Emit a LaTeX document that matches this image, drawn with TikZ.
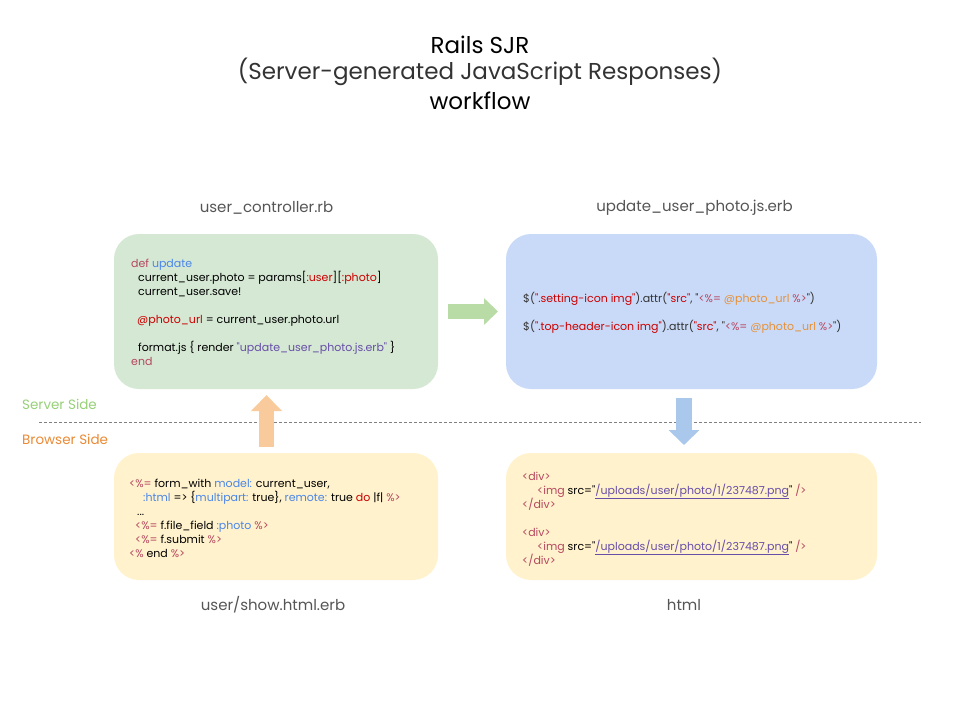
\documentclass[tikz,border=0pt]{standalone}
\usepackage{fontspec}
\setmainfont{Poppins}[Ligatures=TeXOff]
\usetikzlibrary{arrows.meta}
\definecolor{gfill}{HTML}{D5E8D4}
\definecolor{bfill}{HTML}{C9DAF8}
\definecolor{yfill}{HTML}{FFF2CC}
\definecolor{garrow}{HTML}{B9DCA6}
\definecolor{barrow}{HTML}{A9C8EC}
\definecolor{oarrow}{HTML}{F9CB9C}
\definecolor{kw}{HTML}{B5475F}
\definecolor{rd}{HTML}{CC0000}
\definecolor{bl}{HTML}{4A86E8}
\definecolor{pu}{HTML}{674EA7}
\definecolor{og}{HTML}{E69138}
\definecolor{dk}{HTML}{333333}
\definecolor{lbl}{HTML}{555555}
\definecolor{srv}{HTML}{97D077}
\definecolor{brw}{HTML}{EA8A35}
\newcommand\qq{\symbol{34}}
\begin{document}
\begin{tikzpicture}[x=1pt,y=-1pt,
  box/.style={rounded corners=25pt, inner sep=0pt},
  code/.style={anchor=base west, inner sep=0pt, font=\fontsize{11}{12}\selectfont},
  lab/.style={font=\fontsize{15}{18}\selectfont, text=lbl, inner sep=0pt},
  ttl/.style={font=\fontsize{23}{26}\selectfont, inner sep=0pt},
  side/.style={font=\fontsize{13.5}{16}\selectfont, inner sep=0pt, anchor=west}]
\useasboundingbox (0,0) rectangle (960,720);
% title
\node[ttl] (t1) at (480,45) {Rails SJR};
\node[ttl, text=dk] (t2) at (480,72) {(Server-generated JavaScript Responses)};
\node[ttl] (t3) at (480,101) {workflow};
% boxes
\node[box, fill=gfill, minimum width=324pt, minimum height=155pt] (ctrl) at (276,311.5) {};
\node[box, fill=bfill, minimum width=371pt, minimum height=155pt] (js) at (691.5,311.5) {};
\node[box, fill=yfill, minimum width=324pt, minimum height=127pt] (show) at (276,516.5) {};
\node[box, fill=yfill, minimum width=371pt, minimum height=127pt] (html) at (691.5,516.5) {};
% labels
\node[lab] (lctrl) at (266.5,208) {user\_controller.rb};
\node[lab] (ljs) at (694.5,208) {update\_user\_photo.js.erb};
\node[lab] (lshow) at (273,605) {user/show.html.erb};
\node[lab] (lhtml) at (684,605) {html};
% side labels and divider
\node[side, text=srv] (srv) at (22,404) {Server Side};
\node[side, text=brw] (brw) at (22,439) {Browser Side};
\coordinate (dl) at (39,422);
\coordinate (dr) at (921,422);
\draw[gray, line width=1pt, dash pattern=on 3pt off 2pt] (dl) -- (dr);
% arrows
\coordinate (ga) at (448,311.5); \coordinate (gb) at (498,311.5);
\draw[garrow, line width=15pt, -{Triangle[length=14pt,width=26pt]}] (ga) -- (gb);
\coordinate (ba) at (684,398); \coordinate (bb) at (684,445);
\draw[barrow, line width=16pt, -{Triangle[length=15pt,width=30pt]}] (ba) -- (bb);
\coordinate (oa) at (266.5,447); \coordinate (ob) at (266.5,395);
\draw[oarrow, line width=15pt, -{Triangle[length=16pt,width=30pt]}] (oa) -- (ob);
% controller code
\node[code] (c1) at (131,267) {\textcolor{kw}{def} \textcolor{bl}{update}};
\node[code] (c2) at (138,281) {current\_user.photo = params[\textcolor{rd}{:user}][\textcolor{rd}{:photo}]};
\node[code] (c3) at (138,295) {current\_user.save!};
\node[code] (c4) at (137,323) {\textcolor{rd}{@photo\_url} = current\_user.photo.url};
\node[code] (c5) at (138,351) {format.js \{ render \textcolor{pu}{\qq update\_user\_photo.js.erb\qq} \}};
\node[code] (c6) at (131,365) {\textcolor{kw}{end}};
% js code
\node[code, text=dk] (j1) at (523,302) {\$(\textcolor{rd}{\qq.setting-icon img\qq}).attr(\textcolor{rd}{\qq src\qq}, \qq\textcolor{kw}{<\%=} \textcolor{og}{@photo\_url} \textcolor{kw}{\%>}\qq)};
\node[code, text=dk] (j2) at (523,330) {\$(\textcolor{rd}{\qq.top-header-icon img\qq}).attr(\textcolor{rd}{\qq src\qq}, \qq\textcolor{kw}{<\%=} \textcolor{og}{@photo\_url} \textcolor{kw}{\%>}\qq)};
% show code
\node[code] (s1) at (129,487) {\textcolor{kw}{<\%=} form\_with \textcolor{bl}{model:} current\_user,};
\node[code] (s2) at (143,501) {\textcolor{bl}{:html} => \{\textcolor{bl}{multipart:} true\}, \textcolor{bl}{remote:} true \textcolor{rd}{do} |f| \textcolor{kw}{\%>}};
\node[code] (s3) at (137,515) {...};
\node[code] (s4) at (135,529) {\textcolor{kw}{<\%=} f.file\_field \textcolor{bl}{:photo} \textcolor{kw}{\%>}};
\node[code] (s5) at (135,543) {\textcolor{kw}{<\%=} f.submit \textcolor{kw}{\%>}};
\node[code] (s6) at (129,557) {\textcolor{kw}{<\%} end \textcolor{kw}{\%>}};
% html code
\node[code, text=kw] (h1) at (522,480) {<div>};
\node[code] (h2) at (537,494) {\textcolor{kw}{<img} src=\qq\textcolor{pu}{\underline{/uploads/user/photo/1/237487.png}}\qq{} \textcolor{kw}{/>}};
\node[code, text=kw] (h3) at (522,508) {</div>};
\node[code, text=kw] (h4) at (522,536) {<div>};
\node[code] (h5) at (537,550) {\textcolor{kw}{<img} src=\qq\textcolor{pu}{\underline{/uploads/user/photo/1/237487.png}}\qq{} \textcolor{kw}{/>}};
\node[code, text=kw] (h6) at (522,564) {</div>};
\end{tikzpicture}
\end{document}
